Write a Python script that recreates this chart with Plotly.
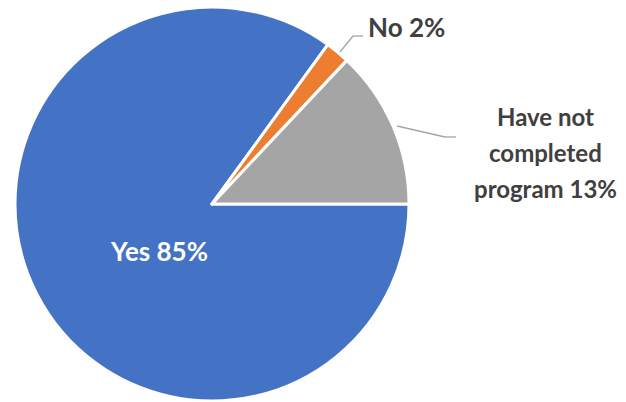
import plotly.graph_objects as go

# Survey responses (drawn clockwise from 3 o'clock)
labels = ["Yes", "No", "Have not completed program"]
values = [85, 2, 13]
colors = ["#4472C4", "#ED7D31", "#A5A5A5"]

W, H = 626, 402
FONT = "Lato"
TXT = "#404040"


def px(x, y):
    """Pixel position -> paper coordinates."""
    return x / W, 1 - y / H


fig = go.Figure(
    go.Pie(
        labels=labels,
        values=values,
        sort=False,
        direction="clockwise",
        rotation=90,
        marker=dict(colors=colors, line=dict(color="white", width=3)),
        textinfo="none",
        hoverinfo="label+percent",
        domain=dict(x=[15 / W, 409 / W], y=[1 - 401 / H, 1 - 7 / H]),
        showlegend=False,
    )
)

pct = {lab: v for lab, v in zip(labels, values)}


def label(x, y, text, size, color):
    ax, ay = px(x, y)
    return dict(x=ax, y=ay, xref="paper", yref="paper", showarrow=False,
                xanchor="center", yanchor="middle",
                text=f"<b>{text}</b>",
                font=dict(family=FONT, size=size, color=color))


annotations = [
    label(159, 251, f"Yes {pct['Yes']}%", 26, "white"),
    label(407, 27, f"No {pct['No']}%", 26, TXT),
]
lines = ["Have not", "completed", f"program {pct['Have not completed program']}%"]
for i, t in enumerate(lines):
    annotations.append(label(545, 116 + 36 * i, t, 24, TXT))

# Leader lines
shapes = []
for pts in ([(340, 52), (353, 36), (363, 36)], [(397, 126), (445, 137), (456, 137)]):
    for (x0, y0), (x1, y1) in zip(pts[:-1], pts[1:]):
        a0, b0 = px(x0, y0)
        a1, b1 = px(x1, y1)
        shapes.append(dict(type="line", xref="paper", yref="paper",
                           x0=a0, y0=b0, x1=a1, y1=b1,
                           line=dict(color="#A6A6A6", width=1.3)))

fig.update_layout(
    width=W,
    height=H,
    margin=dict(l=0, r=0, t=0, b=0),
    paper_bgcolor="white",
    plot_bgcolor="white",
    annotations=annotations,
    shapes=shapes,
)

fig.write_html("out.html")
